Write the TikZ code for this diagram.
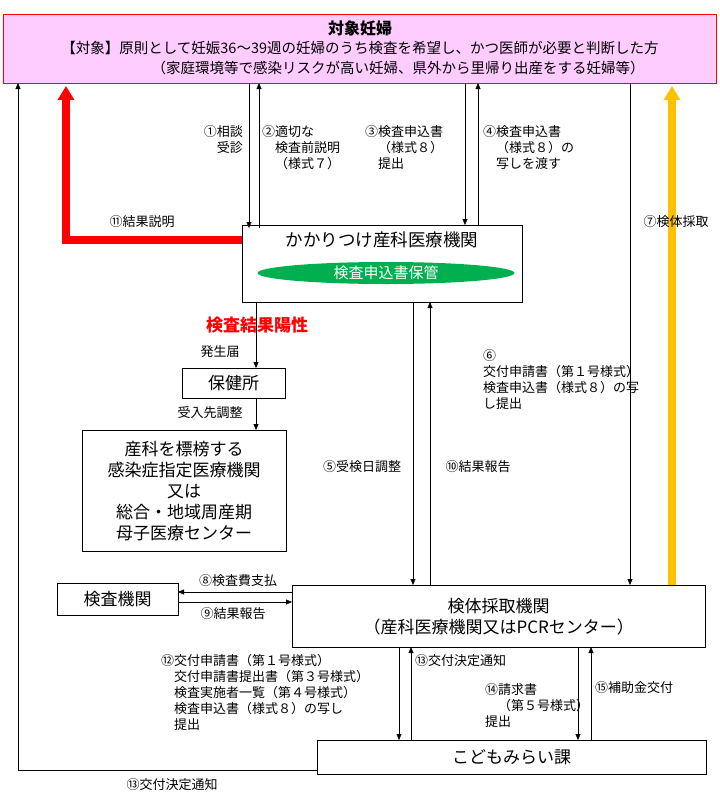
\documentclass[tikz,border=0pt]{standalone}
\usepackage{fontspec}
\setmainfont{Noto Sans CJK JP}
\usetikzlibrary{arrows.meta, positioning, shapes.geometric}
\definecolor{pinkfill}{HTML}{FFCCFF}
\definecolor{keepgreen}{HTML}{00B050}
\definecolor{amber}{HTML}{FFC000}
\tikzset{
    box/.style={
        rectangle,
        draw=black,
        fill=white,
        font=\fontsize{17}{21}\selectfont,
        align=center,
        inner sep=0pt
    },
    lbl/.style={
        font=\fontsize{13}{16}\selectfont,
        align=left,
        inner sep=1pt
    },
    wire/.style={
        draw=black,
        -{Triangle[length=6pt,width=5pt]}
    },
    fat/.style={
        line width=8pt,
        -{Triangle[length=14pt,width=16pt]}
    }
}
\begin{document}
\begin{tikzpicture}[x=1pt, y=-1pt]
\useasboundingbox (0,0) rectangle (720,806);

% Target
\node[box, draw=red, fill=pinkfill, minimum width=713pt, minimum height=69pt, anchor=north west] (target) at (3,14) {};
\node[font=\fontsize{16}{19}\selectfont\bfseries] (ttitle) at (360,28) {対象妊婦};
\node[lbl, font=\fontsize{14.5}{17}\selectfont] (tline1) at (360,48) {【対象】原則として妊娠36〜39週の妊婦のうち検査を希望し、かつ医師が必要と判断した方};
\node[lbl, font=\fontsize{14.5}{17}\selectfont] (tline2) at (398,68) {（家庭環境等で感染リスクが高い妊婦、県外から里帰り出産をする妊婦等）};

% Boxes
\node[box, minimum width=280pt, minimum height=77pt, anchor=north west] (clinic) at (242,225) {};
\node[font=\fontsize{17.5}{21}\selectfont] (clinicname) at (382,240) {かかりつけ産科医療機関};
\node[ellipse, fill=keepgreen, minimum width=257pt, minimum height=22pt, text=white, font=\fontsize{15}{18}\selectfont, inner sep=0pt] (keep) at (386,273) {検査申込書保管};
\node[box, minimum width=103pt, minimum height=30pt, anchor=north west] (hc) at (182,368) {保健所};
\node[box, minimum width=204pt, minimum height=121pt, anchor=north west] (hosp) at (82,430) {産科を標榜する\\感染症指定医療機関\\又は\\総合・地域周産期\\母子医療センター};
\node[box, minimum width=121pt, minimum height=32pt, anchor=north west] (lab) at (57,583) {検査機関};
\node[box, minimum width=413pt, minimum height=62pt, anchor=north west] (sample) at (292,585) {検体採取機関\\（産科医療機関又はPCRセンター）};
\node[box, minimum width=389pt, minimum height=34pt, anchor=north west] (kodomo) at (317,740) {こどもみらい課};

% Target <-> clinic
\draw[wire] (249,83) -- (249,228);
\draw[wire] (259,228) -- (259,83);
\draw[wire] (465,83) -- (465,225);
\draw[wire] (478,225) -- (478,83);
\node[lbl, align=right, anchor=north east] (l1) at (244,124) {①相談\\受診};
\node[lbl, anchor=north west] (l2) at (261,124) {②適切な\\\phantom{②}検査前説明\\\phantom{②}（様式７）};
\node[lbl, anchor=north west] (l3) at (364,124) {③検査申込書\\\phantom{③}（様式８）\\\phantom{③}提出};
\node[lbl, anchor=north west] (l4) at (482,124) {④検査申込書\\\phantom{④}（様式８）の\\\phantom{④}写しを渡す};

% Result explanation
\draw[fat, red] (clinic.west |- 0,240) -- (66,240) -- (66,86);
\node[lbl] (l11) at (142,222) {⑪結果説明};

% Sample collection
\draw[wire] (630,83) -- (630,585);
\draw[fat, amber] (672,585) -- (672,86);
\node[lbl] (l7) at (676,222) {⑦検体採取};

% Positive
\node[text=red, font=\fontsize{17}{20}\selectfont\bfseries] (pos) at (257,325) {検査結果陽性};
\draw[wire] (256,302) -- (hc.north -| 256,0);
\node[lbl] (lrep) at (220,352) {発生届};
\draw[wire] (256,398) -- (hosp.north -| 256,0);
\node[lbl] (ladj) at (210,413) {受入先調整};

% Clinic <-> sampling
\draw[wire] (413,302) -- (413,585);
\draw[wire] (430,585) -- (430,302);
\node[lbl] (l5) at (362,467) {⑤受検日調整};
\node[lbl] (l10) at (478,467) {⑩結果報告};
\node[lbl, anchor=north west] (l6) at (482,348) {⑥\\交付申請書（第１号様式）\\検査申込書（様式８）の写\\し提出};

% Lab
\draw[wire] (292,592) -- (178,592);
\draw[wire] (178,602) -- (292,602);
\node[lbl] (l8) at (238,581) {⑧検査費支払};
\node[lbl] (l9) at (233,614) {⑨結果報告};

% Sampling <-> kodomo
\draw[wire] (399,647) -- (399,740);
\draw[wire] (411,740) -- (411,647);
\draw[wire] (578,647) -- (578,740);
\draw[wire] (591,740) -- (591,647);
\node[lbl, anchor=north west] (l12) at (160,653) {⑫交付申請書（第１号様式）\\\phantom{⑫}交付申請書提出書（第３号様式）\\\phantom{⑫}検査実施者一覧（第４号様式）\\\phantom{⑫}検査申込書（様式８）の写し\\\phantom{⑫}提出};
\node[lbl, anchor=west] (l13) at (414,661) {⑬交付決定通知};
\node[lbl, anchor=north west] (l14) at (484,682) {⑭請求書\\\phantom{⑭}（第５号様式）\\提出};
\node[lbl, anchor=west] (l15) at (594,688) {⑮補助金交付};

% Kodomo -> target
\draw[wire] (kodomo.west |- 0,770) -- (18,770) -- (18,83);
\node[lbl] (l13b) at (172,785) {⑬交付決定通知};
\end{tikzpicture}
\end{document}
